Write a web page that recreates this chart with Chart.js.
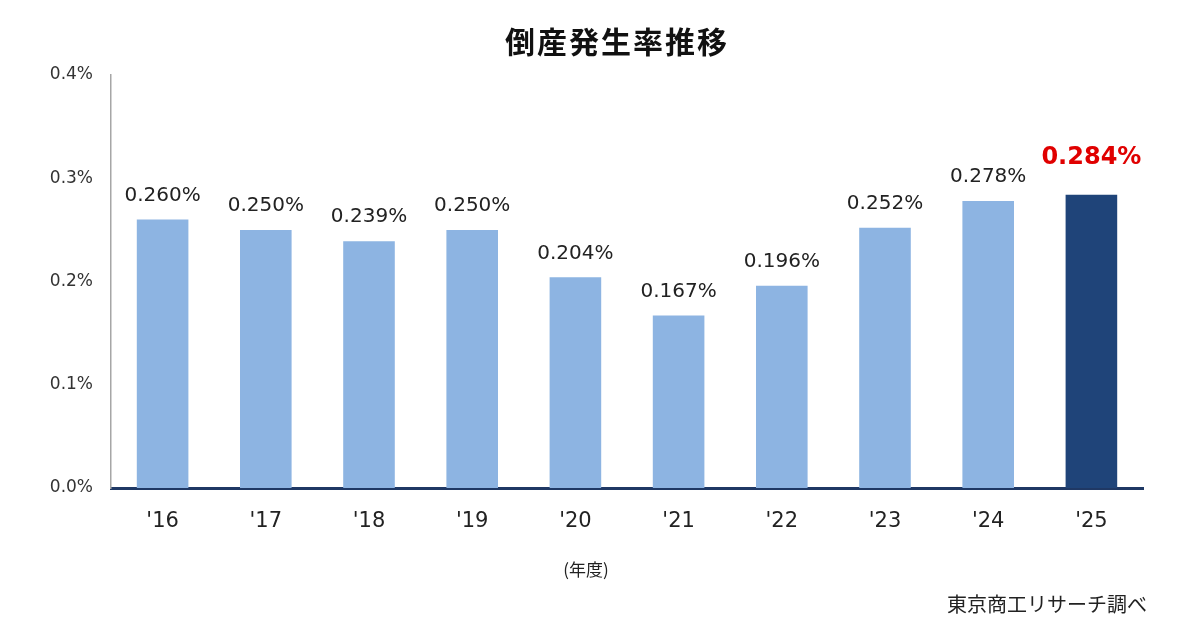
<!DOCTYPE html>
<html>
<head>
<meta charset="utf-8">
<script src="https://cdn.jsdelivr.net/npm/chart.js@4"></script>
<style>
  html, body { margin: 0; padding: 0; background: #fff; }
  #wrap { width: 1200px; height: 630px; }
</style>
</head>
<body>
<div id="wrap"><canvas id="myChart" width="1200" height="630"></canvas></div>
<script>
// data
const years = ["'16", "'17", "'18", "'19", "'20", "'21", "'22", "'23", "'24", "'25"];
const rates = [0.260, 0.250, 0.239, 0.250, 0.204, 0.167, 0.196, 0.252, 0.278, 0.284];
const yTicks = [0, 0.1, 0.2, 0.3, 0.4];
const titleText = '倒産発生率推移';
const xTitleText = '(年度)';
const sourceText = '東京商工リサーチ調べ';

const numFont = "'DejaVu Sans', Verdana, sans-serif";
const jpFont = "'Noto Sans CJK JP', sans-serif";
const lastIdx = rates.length - 1;

const barColors = rates.map((v, i) => i === lastIdx ? '#1f4479' : '#8db4e2');

// title, axis caption, source and labels above each bar
const extraText = {
    id: 'extraText',
    afterDatasetsDraw(chart) {
        const c = chart.ctx;
        const meta = chart.getDatasetMeta(0);
        c.save();
        c.textAlign = 'center';
        c.textBaseline = 'middle';
        meta.data.forEach((bar, i) => {
            const txt = rates[i].toFixed(3) + '%';
            if (i === lastIdx) {
                c.font = "bold 24px " + numFont;
                c.fillStyle = '#e00000';
                c.fillText(txt, bar.x, bar.y - 37);
            } else {
                c.font = "20px " + numFont;
                c.fillStyle = '#222';
                c.fillText(txt, bar.x, bar.y - 24);
            }
        });

        c.font = "bold 30px " + jpFont;
        c.fillStyle = '#111';
        c.letterSpacing = '2px';
        c.fillText(titleText, 617, 42);
        c.letterSpacing = '0px';

        c.font = "17px " + jpFont;
        c.fillStyle = '#222';
        c.fillText(xTitleText, 586, 570);

        c.textAlign = 'right';
        c.font = "20px " + jpFont;
        c.fillText(sourceText, 1147, 604);
        c.restore();
    }
};

const ctx = document.getElementById('myChart').getContext('2d');

var rateChart = new Chart(ctx, {
    type: 'bar',
    data: {
        labels: years,
        datasets: [{
            label: '倒産発生率',
            data: rates,
            backgroundColor: barColors,
            borderWidth: 0,
            barPercentage: 0.5,
            categoryPercentage: 1.0
        }]
    },
    options: {
        responsive: false,
        animation: false,
        layout: { padding: { left: 0, right: 57, top: 75, bottom: 0 } },
        plugins: {
            legend: { display: false },
            tooltip: { enabled: false }
        },
        scales: {
            x: {
                grid: { display: false, drawTicks: false },
                border: { display: true, color: '#1f3864', width: 3 },
                ticks: {
                    color: '#222',
                    font: { family: numFont, size: 21 },
                    padding: 21,
                    maxRotation: 0,
                    autoSkip: false
                },
                afterFit(scale) { scale.height = 142; }
            },
            y: {
                min: 0,
                max: 0.4,
                grid: { display: false, drawTicks: false },
                border: { display: true, color: '#a6a6a6', width: 1.5 },
                afterBuildTicks(scale) {
                    scale.ticks = yTicks.map(v => ({ value: v }));
                },
                ticks: {
                    color: '#333',
                    font: { family: numFont, size: 17 },
                    padding: 18,
                    callback: v => v.toFixed(1) + '%'
                },
                afterFit(scale) { scale.width = 111; }
            }
        }
    },
    plugins: [extraText]
});
</script>
</body>
</html>
